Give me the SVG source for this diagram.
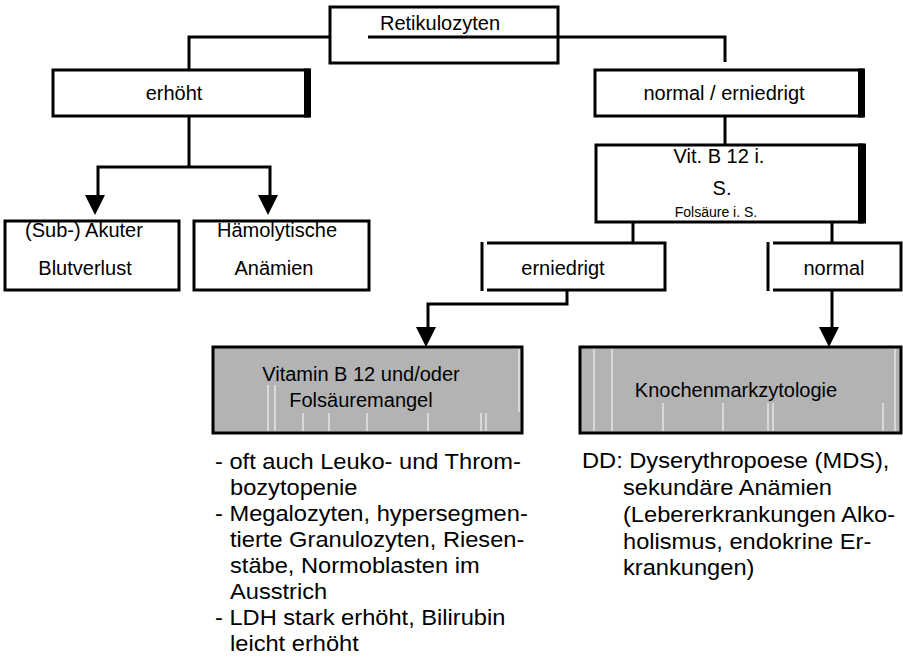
<svg xmlns="http://www.w3.org/2000/svg" width="903" height="660" viewBox="0 0 903 660">
<style>
text{font-family:"Liberation Sans",Arial,sans-serif;fill:#000}
.lb{font-size:20px;text-anchor:middle}
.sm{font-size:14px;text-anchor:middle}
.bt{font-size:21.5px}
.box{fill:#fff;stroke:#000;stroke-width:3}
.gray{fill:#b3b3b3;stroke:#000;stroke-width:3}
.edge{fill:#000}
.ln{fill:none;stroke:#000;stroke-width:3}
.wh{stroke:#fff;stroke-width:1}
</style>
<defs>
<path id="ah" d="M-10,0 L10,0 L0,20 Z" fill="#000"/>
</defs>
<g id="connectors">
<polyline class="ln" points="330,37 189,37 189,70"/>
<polyline class="ln" points="368,37 725,37 725,62"/>
<line class="ln" x1="189" y1="116" x2="189" y2="167"/>
<polyline class="ln" points="98,197 98,167 270,167 270,197"/>
<use href="#ah" x="95" y="195"/>
<use href="#ah" x="268" y="195"/>
<line class="ln" x1="725" y1="116" x2="725" y2="145"/>
<line class="ln" x1="633" y1="222" x2="633" y2="243"/>
<line class="ln" x1="832" y1="222" x2="832" y2="243"/>
<polyline class="ln" points="567,290 567,304 428,304 428,334"/>
<use href="#ah" x="426" y="327"/>
<line class="ln" x1="832" y1="290" x2="832" y2="334"/>
<use href="#ah" x="829" y="327"/>
</g>
<g id="retikulozyten">
<rect class="box" x="330" y="7" width="228" height="56"/>
<line class="ln" x1="368" y1="37" x2="558" y2="37"/>
<text class="lb" x="440" y="30">Retikulozyten</text>
</g>
<g id="erhoeht">
<rect class="box" x="53" y="70" width="255" height="46"/>
<rect class="edge" x="304" y="68.5" width="7" height="49"/>
<text class="lb" x="174" y="100">erhöht</text>
</g>
<g id="normal-erniedrigt">
<rect class="box" x="595" y="70" width="267" height="46"/>
<rect class="edge" x="858" y="68.5" width="7" height="49"/>
<text class="lb" x="724" y="100">normal / erniedrigt</text>
</g>
<g id="vitb12">
<rect class="box" x="596" y="145" width="266" height="77"/>
<rect class="edge" x="858" y="143.5" width="8" height="80"/>
<text class="lb" x="719" y="163">Vit. B 12 i.</text>
<text class="lb" x="722" y="195">S.</text>
<text class="sm" x="716" y="217">Folsäure i. S.</text>
</g>
<g id="akuter-blutverlust">
<rect class="box" x="5" y="221" width="174" height="69"/>
<text class="lb" x="84" y="237">(Sub-) Akuter</text>
<text class="lb" x="85" y="275">Blutverlust</text>
</g>
<g id="haemolytische">
<rect class="box" x="194" y="221" width="175" height="69"/>
<text class="lb" x="277" y="237">Hämolytische</text>
<text class="lb" x="274" y="275">Anämien</text>
</g>
<g id="erniedrigt">
<path class="ln" d="M487,243 H665 V290 H487"/>
<line class="ln" x1="482" y1="242" x2="482" y2="291"/>
<text class="lb" x="563" y="275">erniedrigt</text>
</g>
<g id="normal">
<path class="ln" d="M773,243 H901 V290 H773"/>
<line class="ln" x1="768" y1="242" x2="768" y2="291"/>
<text class="lb" x="834" y="275">normal</text>
</g>
<g id="mangel">
<rect class="gray" x="213" y="347" width="309" height="86"/>
<line class="wh" x1="268" y1="385" x2="268" y2="431"/>
<line class="wh" x1="275" y1="385" x2="275" y2="431"/>
<line class="wh" x1="303" y1="413" x2="303" y2="431"/>
<line class="wh" x1="329" y1="413" x2="329" y2="431"/>
<line class="wh" x1="367" y1="413" x2="367" y2="431"/>
<line class="wh" x1="428" y1="413" x2="428" y2="431"/>
<line class="wh" x1="481" y1="413" x2="481" y2="431"/>
<line class="wh" x1="486" y1="413" x2="486" y2="431"/>
<line class="wh" x1="519" y1="349" x2="519" y2="412"/>
<text class="lb" x="361" y="381">Vitamin B 12 und/oder</text>
<text class="lb" x="361" y="407">Folsäuremangel</text>
</g>
<g id="knochenmark">
<rect class="gray" x="580" y="347" width="321" height="86"/>
<line class="wh" x1="594" y1="349" x2="594" y2="431"/>
<line class="wh" x1="612" y1="349" x2="612" y2="431"/>
<line class="wh" x1="663" y1="403" x2="663" y2="431"/>
<line class="wh" x1="723" y1="403" x2="723" y2="431"/>
<line class="wh" x1="768" y1="403" x2="768" y2="431"/>
<line class="wh" x1="773" y1="403" x2="773" y2="431"/>
<line class="wh" x1="883" y1="403" x2="883" y2="431"/>
<line class="wh" x1="895" y1="349" x2="895" y2="431"/>
<text class="lb" x="736" y="397">Knochenmarkzytologie</text>
</g>
<g id="notes-left" transform="scale(1.1,1)">
<text class="bt" x="195.45" y="469">- oft auch Leuko- und Throm-</text>
<text class="bt" x="209.09" y="495">bozytopenie</text>
<text class="bt" x="195.45" y="521">- Megalozyten, hypersegmen-</text>
<text class="bt" x="209.09" y="547">tierte Granulozyten, Riesen-</text>
<text class="bt" x="209.09" y="573">stäbe, Normoblasten im</text>
<text class="bt" x="209.09" y="599">Ausstrich</text>
<text class="bt" x="195.45" y="625">- LDH stark erhöht, Bilirubin</text>
<text class="bt" x="209.09" y="651">leicht erhöht</text>
</g>
<g id="notes-right" transform="scale(1.1,1)">
<text class="bt" x="529.09" y="468">DD: Dyserythropoese (MDS),</text>
<text class="bt" x="566.36" y="495">sekundäre Anämien</text>
<text class="bt" x="566.36" y="522">(Lebererkrankungen Alko-</text>
<text class="bt" x="566.36" y="549">holismus, endokrine Er-</text>
<text class="bt" x="566.36" y="575">krankungen)</text>
</g>
</svg>
